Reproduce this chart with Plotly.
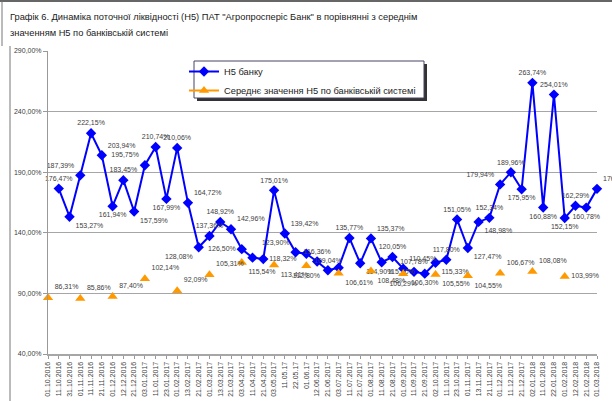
import plotly.graph_objects as go

dates = ["01.10.2016", "11.10.2016", "31.10.2016", "01.11.2016", "11.11.2016", "21.11.2016",
         "01.12.2016", "12.12.2016", "21.12.2016", "03.01.2017", "11.01.2017", "23.01.2017",
         "01.02.2017", "13.02.2017", "21.02.2017", "01.03.2017", "13.03.2017", "21.03.2017",
         "03.04.2017", "11.04.2017", "21.04.2017", "03.05.2017", "11.05.17", "22.05.17",
         "01.06.17", "12.06.2017", "21.06.2017", "03.07.2017", "11.07.2017", "21.07.2017",
         "01.08.2017", "11.08.2017", "21.08.2017", "01.09.2017", "11.09.2017", "21.09.2017",
         "02.10.2017", "11.10.2017", "23.10.2017", "01.11.2017", "13.11.2017", "21.11.2017",
         "01.12.2017", "11.12.2017", "21.12.2017", "02.01.2018", "11.01.2018", "22.01.2018",
         "01.02.2018", "12.02.2018", "21.02.2018", "01.03.2018"]

bank_h5 = [None, 176.47, 153.27, 187.39, 222.15, 203.94, 161.94, 183.45, 157.59, 195.75,
           210.74, 167.99, 210.06, 164.72, 128.08, 137.36, 148.92, 142.96, 126.50, 119.50,
           118.32, 175.01, 139.42, 123.90, 122.70, 116.36, 109.04, 111.20, 135.77, 114.90,
           135.37, 115.70, 120.05, 110.45, 107.78, 106.30, 115.33, 117.80, 151.05, 127.47,
           148.98, 152.34, 179.94, 189.96, 175.95, 263.74, 160.88, 254.01, 152.15, 162.29,
           160.78, 176.25]

system_h5 = [86.31, None, None, 85.86, None, None, 87.40, None, None, 102.14, None, None,
             92.09, None, None, 105.31, None, None, 115.54, None, None, 113.41, None, None,
             112.80, None, None, 106.61, None, None, 108.48, None, None, 106.29, None, None,
             105.55, None, None, 104.55, None, None, 106.67, None, None, 108.08, None, None,
             103.99, None, None, None]

bank_unlabeled = [19, 24, 27]

bank_pos = ["top center",
            "top center", "bottom right", "top left", "top center", "top right", "bottom center",
            "top center", "bottom right", "top left", "top center", "bottom center", "top center",
            "top right", "bottom left", "top center", "top center", "top right", "middle left",
            "top center", "middle right", "top center", "top right", "top left", "top center",
            "top center", "top center", "top center", "top center", "bottom right", "top right",
            "bottom right", "top center", "top right", "top center", "bottom center", "bottom right",
            "top center", "top center", "bottom right", "bottom right", "top center", "top left",
            "top center", "bottom center", "top center", "bottom center", "top center",
            "bottom center", "top center", "bottom center", "top right"]

sys_pos_map = {0: "top right", 3: "top right", 6: "top right", 9: "top right", 12: "top right",
               15: "top right", 18: "bottom right", 21: "bottom right", 24: "bottom center",
               27: "bottom right", 30: "bottom right", 33: "bottom center", 36: "bottom right",
               39: "bottom right", 42: "top right", 45: "top right", 48: "middle right"}

y_ticks = [40, 90, 140, 190, 240, 290]


def pct(v):
    return f"{v:.2f}".replace(".", ",") + "%"


bank_text = ["" if (v is None or i in bank_unlabeled) else pct(v) for i, v in enumerate(bank_h5)]
sys_text = ["" if v is None else pct(v) for v in system_h5]
sys_pos = [sys_pos_map.get(i, "top right") for i in range(len(dates))]

# plot-area pixel geometry
W, H = 612, 401
PL, PR, PT, PB = 48, 597, 51, 354


def px(x):
    return (x - PL) / (PR - PL)


def py(y):
    return (PB - y) / (PB - PT)


FONT = "Liberation Sans"
LBL = dict(family=FONT, size=7, color="#404040")

fig = go.Figure()
fig.add_trace(go.Scatter(
    x=dates, y=bank_h5, name="Н5 банку", mode="lines+markers+text",
    line=dict(color="#0000FF", width=2),
    marker=dict(symbol="diamond", size=8, color="#0000FF"),
    text=bank_text, textposition=bank_pos, textfont=LBL,
    cliponaxis=False, connectgaps=False,
))
fig.add_trace(go.Scatter(
    x=dates, y=system_h5, name="Середнє значення Н5 по банківській системі",
    mode="lines+markers+text",
    line=dict(color="#FF9900", width=2),
    marker=dict(symbol="triangle-up", size=9, color="#FF9900"),
    text=sys_text, textposition=sys_pos, textfont=LBL,
    cliponaxis=False, connectgaps=False,
))

shapes = [
    # legend shadow and box
    dict(type="rect", xref="paper", yref="paper", x0=px(197), x1=px(427), y0=py(101), y1=py(64),
         fillcolor="#333333", line=dict(width=0), layer="above"),
    dict(type="rect", xref="paper", yref="paper", x0=px(194), x1=px(424), y0=py(98), y1=py(61),
         fillcolor="white", line=dict(color="#444466", width=1), layer="above"),
    # document frame lines
    dict(type="line", xref="paper", yref="paper", x0=px(0), x1=px(W), y0=py(1), y1=py(1),
         line=dict(color="#666666", width=2)),
    dict(type="line", xref="paper", yref="paper", x0=px(2), x1=px(2), y0=py(1), y1=py(46),
         line=dict(color="#777777", width=1)),
    dict(type="line", xref="paper", yref="paper", x0=px(10), x1=px(10), y0=py(46), y1=py(H),
         line=dict(color="#777777", width=1)),
]

annotations = [
    dict(text='Графік 6. Динаміка поточної ліквідності (Н5) ПАТ "Агропросперіс Банк" в порівнянні з середнім',
         xref="paper", yref="paper", x=px(8), y=py(17), xanchor="left", yanchor="middle",
         showarrow=False, font=dict(family=FONT, size=9.3, color="#1a1a1a")),
    dict(text="значенням Н5 по банківській системі",
         xref="paper", yref="paper", x=px(8), y=py(33), xanchor="left", yanchor="middle",
         showarrow=False, font=dict(family=FONT, size=9.3, color="#1a1a1a")),
]

fig.update_layout(
    width=W, height=H,
    margin=dict(l=PL, r=W - PR, t=PT, b=H - PB, autoexpand=False),
    paper_bgcolor="white", plot_bgcolor="white",
    font=dict(family=FONT, size=7, color="#404040"),
    showlegend=True,
    legend=dict(x=px(184), y=py(57), xanchor="left", yanchor="top",
                bgcolor="rgba(0,0,0,0)", borderwidth=0,
                font=dict(family=FONT, size=9.3, color="#222222"),
                itemwidth=30, tracegroupgap=0),
    shapes=shapes, annotations=annotations,
    xaxis=dict(type="category", range=[0, len(dates) - 1], tickangle=-90,
               tickfont=dict(family=FONT, size=7, color="#404040"),
               ticks="outside", ticklen=3, tickcolor="#999999", dtick=1,
               showline=True, linecolor="#A6A6A6", linewidth=2, showgrid=False,
               automargin=False),
    yaxis=dict(range=[40, 290], tickvals=y_ticks, ticktext=[pct(v) for v in y_ticks],
               tickfont=dict(family=FONT, size=7, color="#404040"),
               ticks="outside", ticklen=4, tickcolor="#999999",
               showline=True, linecolor="#999999", linewidth=1,
               showgrid=True, gridcolor="#A6A6A6", gridwidth=1, zeroline=False,
               automargin=False),
)

fig.write_html("out.html", config={"displayModeBar": False},
               post_script="document.body.style.margin='0';document.body.style.overflow='hidden';")
